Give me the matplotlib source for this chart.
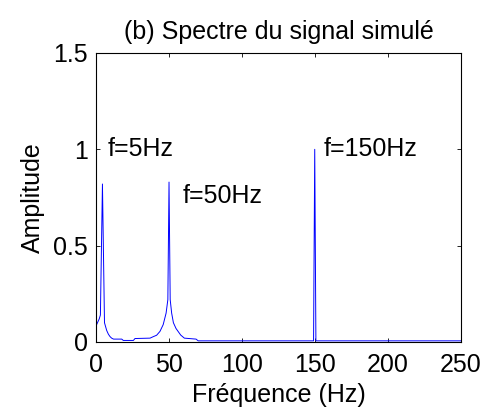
#!/usr/bin/env python3
"""
Amplitude spectrum of the simulated signal (5 Hz, 50 Hz and 150 Hz components).
Usage: python3 plot.py
"""

import matplotlib
matplotlib.use("Agg")
import matplotlib.pyplot as plt

# Spectrum samples (Hz, amplitude)
freq_hz = [0.0, 1.0, 2.2, 3.0, 4.4, 5.8, 7.3, 8.5, 9.6, 10.7, 12.0, 17.6,
           18.7, 25.6, 26.7, 37.0, 39.3, 41.5, 43.8, 46.0, 48.0, 49.2, 50.0,
           50.8, 51.8, 53.0, 54.8, 58.0, 60.5, 68.5, 70.0, 149.0, 149.8,
           150.6, 250.0]
amplitude = [0.083, 0.10, 0.12, 0.14, 0.82, 0.10, 0.06, 0.04, 0.028, 0.02,
             0.015, 0.015, 0.008, 0.008, 0.018, 0.02, 0.028, 0.035, 0.055,
             0.09, 0.15, 0.22, 0.83, 0.22, 0.15, 0.10, 0.07, 0.036, 0.02,
             0.015, 0.006, 0.006, 1.0, 0.006, 0.006]

# Peak annotations: (x, y, text)
peak_labels = ["f=5Hz", "f=50Hz", "f=150Hz"]
peak_label_x = [8, 59, 156]
peak_label_y = [1.0, 0.76, 1.0]

x_ticks = [0, 50, 100, 150, 200, 250]
y_ticks = [0, 0.5, 1, 1.5]
y_tick_labels = ["0", "0.5", "1", "1.5"]

plt.rcParams["font.family"] = ["Liberation Sans", "DejaVu Sans"]
FS = 18

fig = plt.figure(figsize=(4.83, 4.16), dpi=100)
ax = fig.add_axes([0.1988, 0.1779, 0.7557, 0.6947])

ax.plot(freq_hz, amplitude, color="#0000ff", linewidth=0.7)

for txt, x, y in zip(peak_labels, peak_label_x, peak_label_y):
    ax.text(x, y, txt, fontsize=FS, ha="left", va="center")

ax.set_xlim(0, 250)
ax.set_ylim(0, 1.5)
ax.set_xticks(x_ticks)
ax.set_yticks(y_ticks)
ax.set_yticklabels(y_tick_labels)
ax.tick_params(direction="in", length=3, width=0.6, labelsize=FS,
               top=True, right=True)
ax.tick_params(axis="x", pad=8)
ax.tick_params(axis="y", pad=6)
for spine in ax.spines.values():
    spine.set_linewidth(0.8)

ax.set_xlabel("Fréquence (Hz)", fontsize=FS, labelpad=4)
ax.set_ylabel("Amplitude", fontsize=FS, labelpad=6)
ax.set_title("(b) Spectre du signal simulé", fontsize=FS, pad=10)

fig.savefig("out.png", dpi=100, facecolor="white")
